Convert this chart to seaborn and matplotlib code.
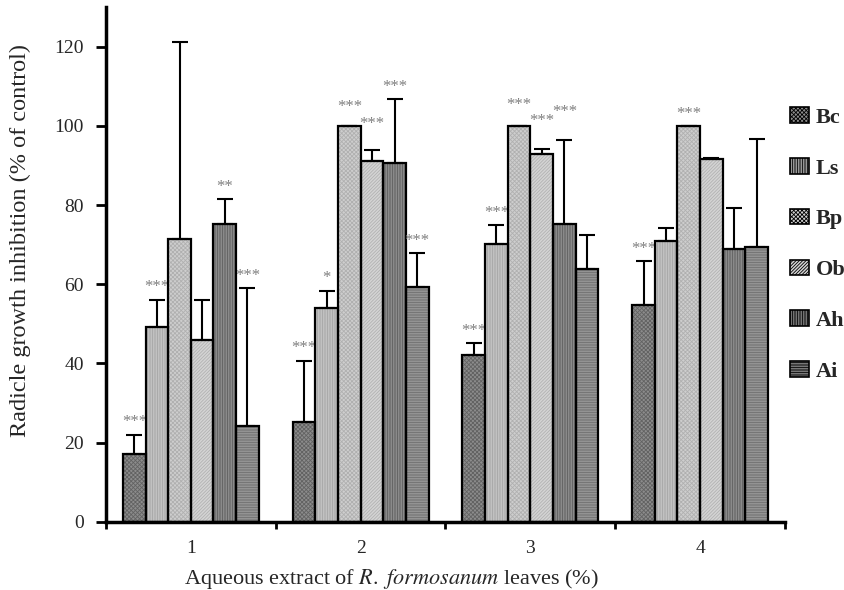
import matplotlib
matplotlib.use("Agg")
import matplotlib.pyplot as plt
from matplotlib.patches import Patch, Rectangle
from matplotlib.ticker import FixedLocator
import seaborn as sns
import pandas as pd

# Aqueous extract concentrations (%)
concentrations = ["1", "2", "3", "4"]
species = ["Bc", "Ls", "Bp", "Ob", "Ah", "Ai"]

# Mean radicle growth inhibition (% of control), one list per species
bc_mean = [17.0, 25.1, 42.2, 54.8]
ls_mean = [49.2, 54.0, 70.2, 71.0]
bp_mean = [71.3, 100.0, 100.0, 100.0]
ob_mean = [45.8, 91.2, 93.0, 91.6]
ah_mean = [75.3, 90.5, 75.1, 68.9]
ai_mean = [24.1, 59.2, 63.9, 69.4]

# Standard deviations (upper bars only)
bc_sd = [5.0, 15.6, 2.9, 11.0]
ls_sd = [6.9, 4.4, 4.8, 3.3]
bp_sd = [49.8, 0.0, 0.0, 0.0]
ob_sd = [10.3, 2.6, 1.2, 0.3]
ah_sd = [6.3, 16.2, 21.4, 10.4]
ai_sd = [35.0, 8.7, 8.6, 27.3]

# Significance marks
bc_sig = ["***", "***", "***", "***"]
ls_sig = ["***", "*", "***", ""]
bp_sig = ["", "***", "***", "***"]
ob_sig = ["", "***", "***", ""]
ah_sig = ["**", "***", "***", ""]
ai_sig = ["***", "***", "", ""]

means = [bc_mean, ls_mean, bp_mean, ob_mean, ah_mean, ai_mean]
sds = [bc_sd, ls_sd, bp_sd, ob_sd, ah_sd, ai_sd]
sigs = [bc_sig, ls_sig, bp_sig, ob_sig, ah_sig, ai_sig]

rows = []
for sp, m, s, g in zip(species, means, sds, sigs):
    for c, mv, sv, gv in zip(concentrations, m, s, g):
        rows.append({"conc": c, "species": sp, "value": mv, "sd": sv, "sig": gv})
df = pd.DataFrame(rows)

# Fill tone, hatch pattern and hatch ink for each species
styles = {
    "Bc": ("#8c8c8c", "xxxxxxxx", "#626262"),
    "Ls": ("#cbcbcb", "||||||||||", "#a4a4a4"),
    "Bp": ("#cecece", "xxxxxxxx", "#b0b0b0"),
    "Ob": ("#d4d4d4", "//////////", "#b2b2b2"),
    "Ah": ("#9a9a9a", "||||||||||", "#5c5c5c"),
    "Ai": ("#a0a0a0", "----------", "#6e6e6e"),
}

sns.set_theme(style="white")
plt.rcParams["font.family"] = ["Liberation Serif", "DejaVu Serif"]
plt.rcParams["hatch.linewidth"] = 0.6
plt.rcParams["mathtext.fontset"] = "stix"

fig = plt.figure(figsize=(8.45, 5.9), dpi=100)
ax = fig.add_axes([0.1254, 0.1158, 0.8036, 0.8722])

sns.barplot(data=df, x="conc", y="value", hue="species", order=concentrations,
            hue_order=species, width=0.8, errorbar=None, legend=False,
            palette=[styles[s][0] for s in species], saturation=1, ax=ax)

# Extra lift (points) for a few marks that sit above neighbours
lift = {("Bp", "2"): 5, ("Bp", "3"): 6, ("Ob", "2"): 10, ("Ob", "3"): 11,
        ("Ah", "3"): 11}

for sp, cont in zip(species, ax.containers):
    face, hatch, ink = styles[sp]
    sub = df[df["species"] == sp].set_index("conc").loc[concentrations]
    for bar, (conc, r) in zip(cont.patches, sub.iterrows()):
        bar.set_hatch(hatch)
        bar.set_edgecolor(ink)
        bar.set_linewidth(0)
        x0, w, h = bar.get_x(), bar.get_width(), bar.get_height()
        ax.add_patch(Rectangle((x0, 0), w, h, fill=False, edgecolor="black",
                               linewidth=1.6, zorder=3))
        xc = x0 + w / 2
        ax.errorbar([xc], [r["value"]], yerr=[[0], [r["sd"]]], fmt="none",
                    ecolor="black", elinewidth=1.5, capsize=6, capthick=1.5,
                    zorder=2)
        if r["sig"]:
            ax.annotate(r["sig"], (xc, r["value"] + r["sd"]),
                        xytext=(0, 3 + lift.get((sp, conc), 0)),
                        textcoords="offset points", ha="center", va="bottom",
                        fontsize=12, color="#7f7f7f")

ax.set_ylim(0, 130)
ax.set_xlim(-0.5, 3.5)
ax.set_yticks([0, 20, 40, 60, 80, 100, 120])
ax.xaxis.set_minor_locator(FixedLocator([-0.5, 0.5, 1.5, 2.5, 3.5]))
ax.tick_params(axis="x", which="major", length=0, pad=13, labelsize=14)
ax.tick_params(axis="x", which="minor", length=5, width=2, color="black",
               bottom=True)
ax.tick_params(axis="y", which="major", length=7, width=2, color="black",
               left=True, pad=9, labelsize=14)

for side in ["top", "right"]:
    ax.spines[side].set_visible(False)
for side in ["left", "bottom"]:
    ax.spines[side].set_color("black")
    ax.spines[side].set_linewidth(2.5)

ax.set_ylabel("Radicle growth inhibition (% of control)", fontsize=17.5)
ax.set_xlabel(r"Aqueous extract of $\it{R.\ formosanum}$ leaves (%)",
              fontsize=16)
ax.yaxis.set_label_coords(-0.11, 0.547)
ax.xaxis.set_label_coords(0.42, -0.089)

handles = []
for sp in species:
    face, hatch, ink = styles[sp]
    handles.append(Patch(facecolor=face, hatch=hatch, edgecolor="black",
                         linewidth=1.2))
leg = fig.legend(handles, species, loc="upper left",
                 bbox_to_anchor=(0.935, 0.818), frameon=False,
                 handlelength=0.85, handleheight=0.7, handletextpad=0.3,
                 labelspacing=1.36, borderpad=0, borderaxespad=0,
                 prop={"weight": "bold", "size": 16,
                       "family": "Liberation Serif"})

fig.savefig("out.png", dpi=100)
